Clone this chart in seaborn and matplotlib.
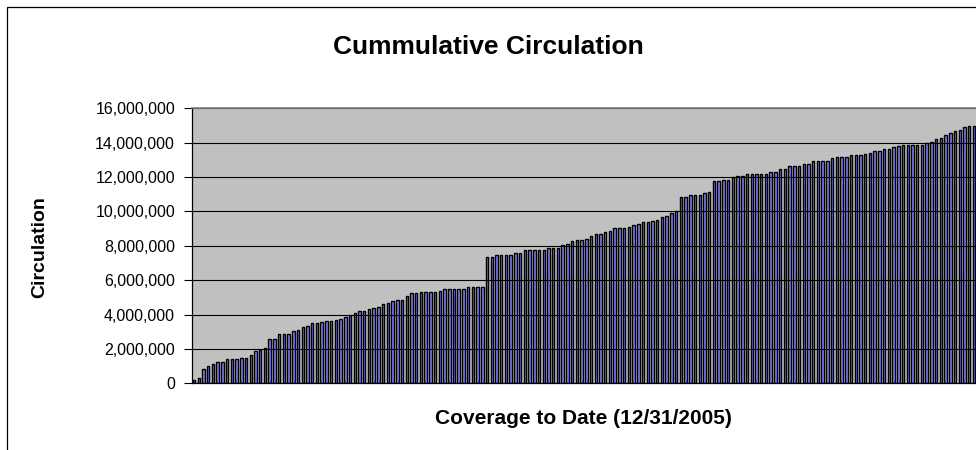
import matplotlib
matplotlib.use("Agg")
import matplotlib.pyplot as plt
import matplotlib.ticker as mticker
from matplotlib.patches import Rectangle
import seaborn as sns
import pandas as pd

# Cumulative circulation per issue (millions), read left to right
seg1 = [0.17, 0.33, 0.85, 1.02, 1.10, 1.26, 1.26, 1.41, 1.41, 1.41, 1.49, 1.49, 1.65, 1.88,
        1.96, 2.03, 2.58, 2.58, 2.89, 2.89, 2.89, 3.04, 3.12, 3.28, 3.35, 3.51, 3.51, 3.58]
seg2 = [3.61, 3.61, 3.68, 3.76, 3.84, 3.96, 4.07, 4.22, 4.22, 4.30, 4.40, 4.46, 4.61, 4.70,
        4.77, 4.85, 4.85, 5.09, 5.24, 5.24, 5.31, 5.31, 5.31, 5.31, 5.38, 5.47, 5.47]
seg3 = [5.47, 5.47, 5.47, 5.62, 5.62, 5.62, 5.62, 7.33, 7.33, 7.48, 7.48, 7.48, 7.48, 7.56,
        7.56, 7.73, 7.73, 7.73, 7.73, 7.73, 7.87, 7.87, 7.87, 8.02, 8.10, 8.27, 8.35, 8.35]
seg4 = [8.42, 8.57, 8.66, 8.66, 8.81, 8.89, 9.04, 9.04, 9.04, 9.12, 9.20, 9.28, 9.36, 9.36,
        9.43, 9.51, 9.66, 9.74, 9.89, 10.04, 10.82, 10.82, 10.98, 10.98, 10.98, 11.06, 11.14]
seg5 = [11.77, 11.77, 11.85, 11.85, 12.00, 12.08, 12.08, 12.16, 12.16, 12.16, 12.16, 12.16,
        12.31, 12.31, 12.47, 12.47, 12.63, 12.63, 12.63, 12.78, 12.78, 12.93, 12.93, 12.93,
        12.93, 13.09, 13.15, 13.15]
seg6 = [13.19, 13.26, 13.26, 13.26, 13.34, 13.42, 13.50, 13.50, 13.65, 13.65, 13.73, 13.81,
        13.88, 13.88, 13.88, 13.88, 13.88, 13.96, 14.04, 14.20, 14.27, 14.43, 14.58, 14.66,
        14.74, 14.89, 14.97, 14.97]

y_ticks = [0, 2_000_000, 4_000_000, 6_000_000, 8_000_000, 10_000_000, 12_000_000,
           14_000_000, 16_000_000]
title_text = "Cummulative Circulation"
x_label = "Coverage to Date (12/31/2005)"
y_label = "Circulation"

circ_millions = seg1 + seg2 + seg3 + seg4 + seg5 + seg6
df = pd.DataFrame({
    "issue": list(range(len(circ_millions))),
    "circulation": [v * 1_000_000 for v in circ_millions],
})

sns.set_theme(style="white")
plt.rcParams["font.family"] = ["Liberation Sans", "DejaVu Sans"]

W, H = 976, 450
fig = plt.figure(figsize=(W / 100, H / 100), dpi=100)
fig.patch.set_facecolor("white")

ax_left = 191.7 / W
ax_bottom = (H - 383.3) / H
ax_top = (H - 108.3) / H
ax = fig.add_axes([ax_left, ax_bottom, 1.0 - ax_left, ax_top - ax_bottom])
ax.set_facecolor("#C0C0C0")

sns.barplot(data=df, x="issue", y="circulation", ax=ax, color="#8080F0",
            saturation=1, width=0.52, edgecolor="black", linewidth=1.0)

ax.set_xlim(-0.49, 165.43)
ax.set_ylim(0, 16_000_000)
ax.set_yticks(y_ticks)
ax.yaxis.set_major_formatter(mticker.FuncFormatter(lambda v, p: f"{v:,.0f}"))
ax.set_xticks([])
ax.set_xlabel("")
ax.set_ylabel("")

ax.set_axisbelow(False)
ax.yaxis.grid(True, color="black", linewidth=0.8)
ax.xaxis.grid(False)

for side in ["left", "bottom"]:
    ax.spines[side].set_color("black")
    ax.spines[side].set_linewidth(0.9)
ax.spines["top"].set_color("#808080")
ax.spines["top"].set_linewidth(1.2)
ax.spines["top"].set_zorder(5)
ax.spines["right"].set_visible(False)

ax.tick_params(axis="y", which="major", direction="out", length=6, width=0.8,
               color="black", left=True, pad=6, labelsize=11.5, labelcolor="black")

# Chart area border (cropped on right and bottom)
fig.patches.append(Rectangle((7.0 / W, -0.5), 2.0, 1.5 - 7.0 / H,
                             transform=fig.transFigure, fill=False,
                             edgecolor="black", linewidth=0.9))

fig.text(0.5, (H - 47) / H, title_text, ha="center", va="center",
         fontsize=19, fontweight="bold", color="black")
fig.text((191.7 + 976) / 2 / W, (H - 419) / H, x_label, ha="center", va="center",
         fontsize=15, fontweight="bold", color="black")
fig.text(40 / W, (H - 247) / H, y_label, ha="center", va="center", rotation=90,
         fontsize=14, fontweight="bold", color="black")

fig.savefig("out.png", dpi=100, facecolor="white")
